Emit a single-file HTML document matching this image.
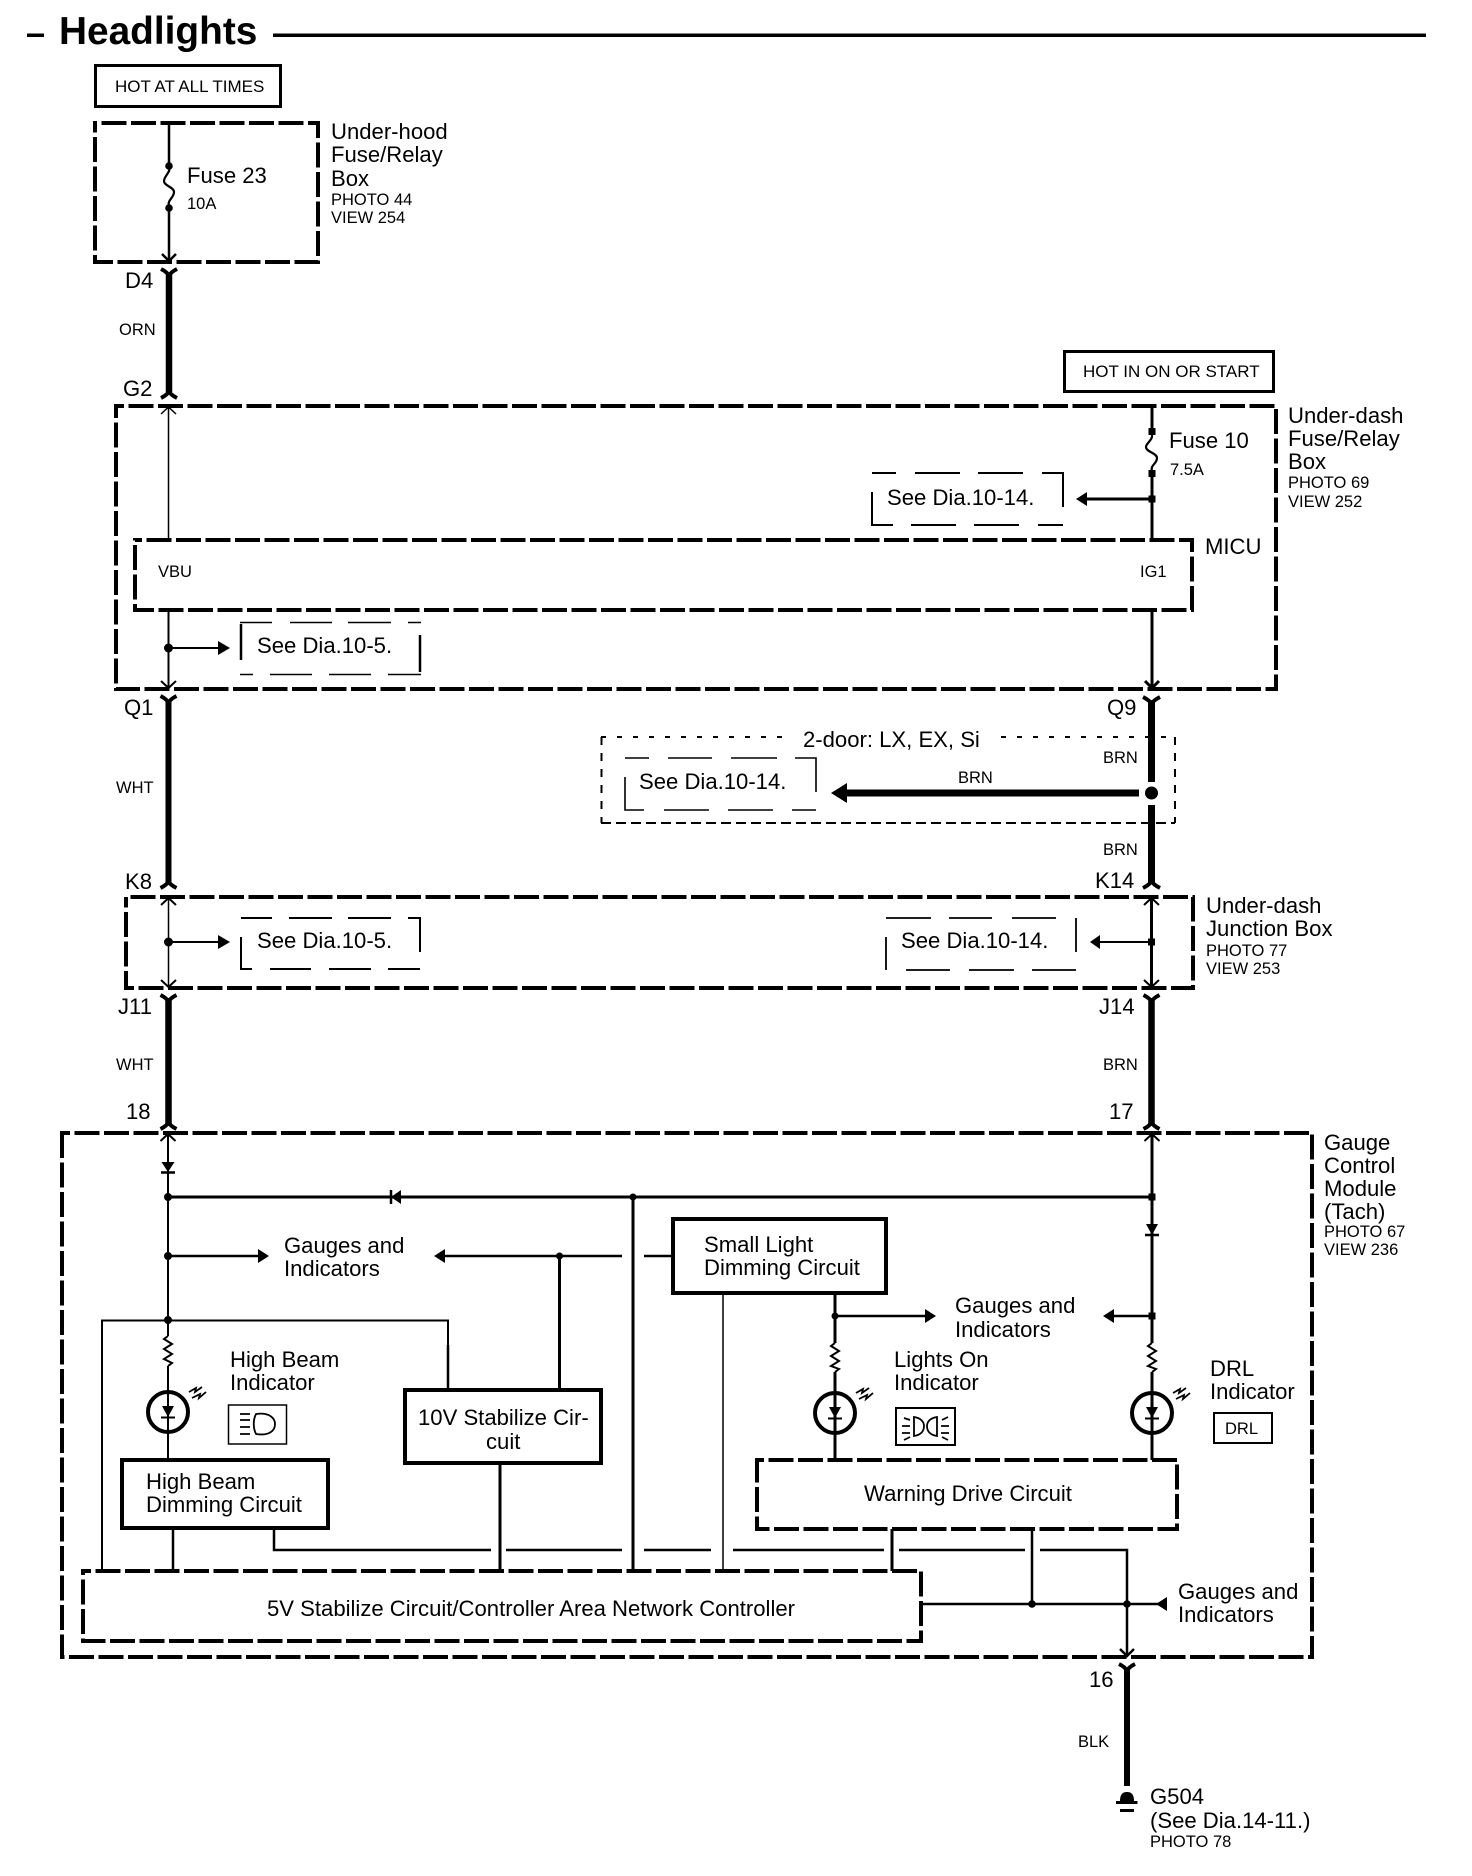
<!DOCTYPE html>
<html><head><meta charset="utf-8"><title>Headlights</title>
<style>
html,body{margin:0;padding:0;background:#fff}
svg{display:block}
text{font-family:"Liberation Sans",Arial,sans-serif;fill:#000}
.b{font-size:22.1px}
.s{font-size:16.5px}
.h{font-size:17px}
.w{fill:none;stroke:#000}
.f{fill:#000;stroke:none}
.box{fill:none;stroke:#000;stroke-width:4;stroke-dasharray:25 4.5;stroke-dashoffset:17}
</style></head><body>
<svg width="1472" height="1876" viewBox="0 0 1472 1876" xmlns="http://www.w3.org/2000/svg">
<rect width="1472" height="1876" fill="#fff"/>

<!-- title -->
<rect x="27" y="33.5" width="17" height="3.5" class="f"/>
<text x="59" y="44" font-size="38.8" font-weight="bold">Headlights</text>
<rect x="273" y="33.5" width="1153" height="3.5" class="f"/>

<!-- hot at all times -->
<rect x="95.5" y="65.5" width="185" height="41" class="w" stroke-width="3"/>
<text x="115" y="92" class="h">HOT AT ALL TIMES</text>

<!-- under-hood -->
<rect x="95" y="123" width="223" height="139" class="box" style="stroke-dashoffset:23"/>
<path class="w" stroke-width="2.5" d="M169 123V166M169 208V261M162 254L169 261L176 254"/>
<circle cx="169" cy="166" r="3.8" class="f"/><circle cx="169" cy="208" r="3.8" class="f"/>
<path class="w" stroke-width="2.2" d="M169 168C171 172 164 176 164 181C164 186 174 187 174 192C174 198 167 200 169 206"/>
<text x="187" y="183" class="b">Fuse 23</text>
<text x="187" y="209" class="s">10A</text>
<text x="331" y="139" class="b">Under-hood</text>
<text x="331" y="162" class="b">Fuse/Relay</text>
<text x="331" y="186" class="b">Box</text>
<text x="331" y="205" class="s">PHOTO 44</text>
<text x="331" y="223" class="s">VIEW 254</text>

<!-- D4 - G2 -->
<path class="w" stroke-width="6.5" d="M169 274V392"/>
<path class="w" stroke-width="4" d="M161 269C165 271 168 273 169 276C170 273 173 271 177 269"/>
<path class="w" stroke-width="4" d="M161 398C165 396 168 394 169 391C170 394 173 396 177 398"/>
<text x="125" y="288" class="b">D4</text>
<text x="119" y="335" class="s">ORN</text>
<text x="123" y="396" class="b">G2</text>

<!-- hot in on -->
<rect x="1064.5" y="351.5" width="209" height="40" class="w" stroke-width="3"/>
<text x="1083" y="377" class="h">HOT IN ON OR START</text>

<!-- under-dash fuse box -->
<rect x="116" y="406" width="1160" height="283" class="box"/>
<path class="w" stroke-width="1.5" d="M168.500 406V540M161 414L168.500 407L176 414"/>
<path class="w" stroke-width="3" d="M1152 406V432M1152 473V540"/>
<rect x="1148.500" y="428" width="7" height="7" class="f"/><rect x="1148.500" y="470" width="7" height="7" class="f"/>
<path class="w" stroke-width="2.2" d="M1152 435C1153 440 1146 443 1146 447C1146 452 1157 453 1157 458C1157 464 1150 465 1152 471"/>
<rect x="1148.500" y="495.500" width="7" height="7" class="f"/>
<path class="w" stroke-width="3" d="M1086 499H1152"/>
<path class="f" d="M1076 499L1087 492V506Z"/>
<path class="w" stroke-width="2" d="M872 473H896M915 473H960M978 473H1023M1042 473H1063V507M872 492V525H893M911 525H956M974 525H1019M1038 525H1063"/>
<text x="887" y="505" class="b">See Dia.10-14.</text>
<text x="1169" y="448" class="b">Fuse 10</text>
<text x="1170" y="475" class="s">7.5A</text>
<text x="1288" y="423" class="b">Under-dash</text>
<text x="1288" y="446" class="b">Fuse/Relay</text>
<text x="1288" y="469" class="b">Box</text>
<text x="1288" y="488" class="s">PHOTO 69</text>
<text x="1288" y="507" class="s">VIEW 252</text>

<!-- MICU -->
<rect x="135" y="540" width="1057" height="70" class="box" style="stroke-dashoffset:18"/>
<text x="1205" y="554" class="b">MICU</text>
<text x="158" y="577" class="s">VBU</text>
<text x="1140" y="577" class="s">IG1</text>
<path class="w" stroke-width="2" d="M168.500 610V688M161 681L168.500 688L176 681"/>
<circle cx="168.500" cy="648" r="4.500" class="f"/>
<path class="w" stroke-width="2" d="M168 648H220"/>
<path class="f" d="M230 648L218 641V655Z"/>
<path class="w" stroke-width="2.5" d="M241 624V660M420 635V672"/>
<path class="w" stroke-width="1.5" d="M240 622.500H272M290 622.500H332M348 622.500H391M408 622.500H421M240 674.500H253M270 674.500H312M329 674.500H371M388 674.500H421"/>
<text x="257" y="653" class="b">See Dia.10-5.</text>
<path class="w" stroke-width="3" d="M1152 610V688M1145 681L1152 688L1159 681"/>

<!-- Q1/K8 -->
<path class="w" stroke-width="6" d="M168.500 700V882"/>
<path class="w" stroke-width="4" d="M160.500 696C164.500 698 167.500 700 168.500 703C169.500 700 172.500 698 176.500 696"/>
<path class="w" stroke-width="4" d="M160.500 888C164.500 886 167.500 884 168.500 881C169.500 884 172.500 886 176.500 888"/>
<text x="124" y="715" class="b">Q1</text>
<text x="116" y="793" class="s">WHT</text>
<text x="125" y="889" class="b">K8</text>

<!-- 2-door -->
<path class="w" stroke-width="2" stroke-dasharray="5 11" d="M601 737H1175"/>
<path class="w" stroke-width="2" stroke-dasharray="10 5" d="M601 823H1175"/>
<path class="w" stroke-width="2" stroke-dasharray="8 8" d="M601.500 737V823M1175 737V823"/>
<rect x="788" y="730" width="213" height="20" fill="#fff"/>
<text x="803" y="747" class="b">2-door: LX, EX, Si</text>
<path class="w" stroke-width="1.600" d="M625 758H649M668 758H712M731 758H777M795 758H816V792M625 777V810H644M664 810H709M728 810H773M792 810H816"/>
<text x="639" y="789" class="b">See Dia.10-14.</text>
<path class="w" stroke-width="7" d="M845 793H1139"/>
<path class="f" d="M831 793L847 783V803Z"/>
<circle cx="1151.500" cy="793" r="6.500" class="f"/>

<!-- Q9/K14 -->
<path class="w" stroke-width="7" d="M1151.500 700V782M1151.500 805V882"/>
<path class="w" stroke-width="4" d="M1143 697C1147 699 1150 701 1151.500 704C1153 701 1156 699 1160 697"/>
<path class="w" stroke-width="4" d="M1143 888C1147 886 1150 884 1151.500 881C1153 884 1156 886 1160 888"/>
<text x="1107" y="715" class="b">Q9</text>
<text x="1095" y="888" class="b">K14</text>
<text x="1103" y="763" class="s">BRN</text>
<text x="958" y="783" class="s">BRN</text>
<text x="1103" y="855" class="s">BRN</text>

<!-- junction box -->
<rect x="126" y="897" width="1067" height="91" class="box" style="stroke-dashoffset:25"/>
<path class="w" stroke-width="1.500" d="M168.500 897V987"/>
<path class="w" stroke-width="2" d="M161 905L168.500 898L176 905M161 980L168.500 987L176 980"/>
<circle cx="168.500" cy="942" r="4.500" class="f"/>
<path class="w" stroke-width="2" d="M168 942H220"/>
<path class="f" d="M230 942L218 935V949Z"/>
<path class="w" stroke-width="2" d="M241 918H272M289 918H332M348 918H391M408 918H420V952M241 937V969H252M270 969H311M329 969H371M388 969H420"/>
<text x="257" y="948" class="b">See Dia.10-5.</text>
<path class="w" stroke-width="3" d="M1151.500 897V987"/>
<path class="w" stroke-width="2" d="M1144 905L1151.500 898L1159 905M1144 980L1151.500 987L1159 980"/>
<rect x="1148" y="938.500" width="7" height="7" class="f"/>
<path class="w" stroke-width="2" d="M1100 942H1151"/>
<path class="f" d="M1090 942L1100 935V949Z"/>
<path class="w" stroke-width="1.800" d="M886 918H931M949 918H992M1012 918H1056M1076 918V952M886 937V970M906 970H950M969 970H1014M1032 970H1076"/>
<text x="901" y="948" class="b">See Dia.10-14.</text>
<text x="1206" y="913" class="b">Under-dash</text>
<text x="1206" y="936" class="b">Junction Box</text>
<text x="1206" y="956" class="s">PHOTO 77</text>
<text x="1206" y="974" class="s">VIEW 253</text>

<!-- J11 / 18, J14 / 17 -->
<path class="w" stroke-width="6.500" d="M168.500 998V1125M1151.500 998V1125"/>
<path class="w" stroke-width="4" d="M160.500 995C164.500 997 167.500 999 168.500 1002C169.500 999 172.500 997 176.500 995M1143.500 995C1147.500 997 1150.500 999 1151.500 1002C1152.500 999 1155.500 997 1159.500 995"/>
<path class="w" stroke-width="4" d="M160.500 1129C164.500 1127 167.500 1125 168.500 1122C169.500 1125 172.500 1127 176.500 1129M1143.500 1129C1147.500 1127 1150.500 1125 1151.500 1122C1152.500 1125 1155.500 1127 1159.500 1129"/>
<text x="118" y="1014" class="b">J11</text>
<text x="1099" y="1014" class="b">J14</text>
<text x="116" y="1070" class="s">WHT</text>
<text x="1103" y="1070" class="s">BRN</text>
<text x="126" y="1119" class="b">18</text>
<text x="1109" y="1119" class="b">17</text>

<!-- gauge module -->
<rect x="62" y="1133" width="1250" height="524" class="box"/>
<text x="1324" y="1150" class="b">Gauge</text>
<text x="1324" y="1173" class="b">Control</text>
<text x="1324" y="1196" class="b">Module</text>
<text x="1324" y="1219" class="b">(Tach)</text>
<text x="1324" y="1237" class="s">PHOTO 67</text>
<text x="1324" y="1255" class="s">VIEW 236</text>

<!-- left rail -->
<path class="w" stroke-width="2" d="M168 1133V1336M168 1366V1459M160.500 1141L168 1134L175.500 1141"/>
<path class="f" d="M168 1172L161.500 1162H174.500Z"/>
<path class="w" stroke-width="2.500" d="M161 1172.500H175"/>
<circle cx="168" cy="1197" r="4" class="f"/>
<path class="w" stroke-width="3" d="M168 1197H1152"/>
<path class="f" d="M391 1197L401 1190V1204Z"/>
<path class="w" stroke-width="2.500" d="M391 1190V1204"/>
<circle cx="168" cy="1256" r="4" class="f"/>
<path class="w" stroke-width="2.500" d="M168 1256H260"/>
<path class="f" d="M269 1256L258 1249V1263Z"/>
<text x="284" y="1253" class="b">Gauges and</text>
<text x="284" y="1276" class="b">Indicators</text>
<path class="w" stroke-width="2.500" d="M444 1256H622"/>
<path class="f" d="M434 1256L445 1249V1263Z"/>
<circle cx="559.500" cy="1256" r="3.500" class="f"/>
<path class="w" stroke-width="3" d="M559.500 1256V1389"/>
<path class="w" stroke-width="3" d="M633 1197V1571"/>
<circle cx="633" cy="1197" r="3.500" class="f"/>
<circle cx="168" cy="1320" r="4" class="f"/>
<path class="w" stroke-width="2" d="M102 1571V1320.500H448V1389"/>
<path class="w" stroke-width="2.500" d="M448 1345V1389"/>

<!-- high beam LED -->
<path class="w" stroke-width="2" d="M168 1336L164 1339L172 1344L164 1349L172 1354L164 1359L172 1363L168 1366"/>
<circle cx="168" cy="1412" r="20" fill="none" stroke="#000" stroke-width="4"/>
<path class="f" d="M168 1417L162 1406H174Z"/>
<path class="w" stroke-width="2" d="M161 1417.500H175"/>
<path class="w" stroke-width="1.800" d="M189 1392L196 1388L195 1392L202 1387M192 1398L200 1394L199 1398L206 1392"/>
<text x="230" y="1367" class="b">High Beam</text>
<text x="230" y="1390" class="b">Indicator</text>
<rect x="228.500" y="1405" width="58" height="39" class="w" stroke-width="1.500"/>
<path class="w" stroke-width="1.800" d="M240 1414H250M240 1420H250M240 1427H250M240 1434H250M256 1414C269 1412 275 1418 275 1424C275 1431 269 1436 256 1434C253 1428 253 1420 256 1414Z"/>
<rect x="122" y="1460" width="206" height="68" class="w" stroke-width="4"/>
<text x="146" y="1489" class="b">High Beam</text>
<text x="146" y="1512" class="b">Dimming Circuit</text>
<path class="w" stroke-width="2.500" d="M173 1529V1571"/>
<path class="w" stroke-width="2.500" d="M274 1529V1550H491M506 1550H622M644 1550H711M733 1550H884M899 1550H1025M1040 1550H1127V1656M1120 1649L1127 1656L1134 1649"/>

<!-- 10V -->
<rect x="405" y="1390" width="196" height="73" class="w" stroke-width="4"/>
<text x="418" y="1425" class="b">10V Stabilize Cir-</text>
<text x="486" y="1449" class="b">cuit</text>
<path class="w" stroke-width="3" d="M500 1464V1571"/>

<!-- small light -->
<path class="w" stroke-width="2.500" d="M644 1256H671"/>
<rect x="673" y="1219" width="213" height="74" class="w" stroke-width="4"/>
<text x="704" y="1252" class="b">Small Light</text>
<text x="704" y="1275" class="b">Dimming Circuit</text>
<path class="w" stroke-width="1.500" d="M723 1293V1571"/>

<!-- lights on -->
<path class="w" stroke-width="3" d="M835 1293V1343M835 1372V1460"/>
<circle cx="835" cy="1316" r="3.500" class="f"/>
<path class="w" stroke-width="2.500" d="M835 1316H926"/>
<path class="f" d="M936 1316L925 1309V1323Z"/>
<text x="955" y="1313" class="b">Gauges and</text>
<text x="955" y="1337" class="b">Indicators</text>
<path class="w" stroke-width="2" d="M835 1343L831 1346L839 1351L831 1356L839 1361L831 1366L839 1369L835 1372"/>
<circle cx="835" cy="1413" r="20" fill="none" stroke="#000" stroke-width="4"/>
<path class="f" d="M835 1418L829 1407H841Z"/>
<path class="w" stroke-width="2" d="M828 1418.500H842"/>
<path class="w" stroke-width="1.800" d="M856 1393L863 1389L862 1393L869 1388M859 1399L867 1395L866 1399L873 1393"/>
<text x="894" y="1367" class="b">Lights On</text>
<text x="894" y="1390" class="b">Indicator</text>
<rect x="896" y="1408" width="59" height="37" class="w" stroke-width="2"/>
<path class="w" stroke-width="1.800" d="M904 1418L910 1420M902 1426H910M902 1433H910M904 1440L910 1437M914 1417C921 1418 924 1422 924 1426C924 1431 921 1435 914 1436ZM937 1417C930 1418 927 1422 927 1426C927 1431 930 1435 937 1436ZM942 1420L948 1417M941 1426H949M941 1433H949M942 1437L948 1440"/>

<!-- right rail -->
<path class="w" stroke-width="3" d="M1152 1133V1343M1152 1372V1460"/>
<path class="w" stroke-width="2" d="M1144.500 1141L1152 1134L1159.500 1141"/>
<rect x="1148.500" y="1193.500" width="7" height="7" class="f"/>
<path class="f" d="M1152 1235L1146 1224H1158Z"/>
<path class="w" stroke-width="2.500" d="M1145 1235H1159"/>
<rect x="1148.500" y="1312.500" width="7" height="7" class="f"/>
<path class="w" stroke-width="2.500" d="M1113 1316H1152"/>
<path class="f" d="M1103 1316L1114 1309V1323Z"/>
<path class="w" stroke-width="2" d="M1152 1343L1148 1346L1156 1351L1148 1356L1156 1361L1148 1366L1156 1369L1152 1372"/>
<circle cx="1152" cy="1413" r="20" fill="none" stroke="#000" stroke-width="4"/>
<path class="f" d="M1152 1418L1146 1407H1158Z"/>
<path class="w" stroke-width="2" d="M1145 1418.500H1159"/>
<path class="w" stroke-width="1.800" d="M1173 1393L1180 1389L1179 1393L1186 1388M1176 1399L1184 1395L1183 1399L1190 1393"/>
<text x="1210" y="1376" class="b">DRL</text>
<text x="1210" y="1399" class="b">Indicator</text>
<rect x="1214" y="1413" width="58" height="30" class="w" stroke-width="2"/>
<text x="1225" y="1434" class="s">DRL</text>

<!-- warning -->
<rect x="757" y="1460" width="420" height="69" class="box" style="stroke-dashoffset:18"/>
<text x="968" y="1501" class="b" text-anchor="middle">Warning Drive Circuit</text>
<path class="w" stroke-width="3" d="M892 1529V1571"/>
<path class="w" stroke-width="2.500" d="M1032 1529V1604"/>

<!-- 5V -->
<rect x="83" y="1571" width="838" height="70" class="box"/>
<text x="267" y="1616" class="b">5V Stabilize Circuit/Controller Area Network Controller</text>
<path class="w" stroke-width="2.500" d="M921 1604H1158"/>
<circle cx="1032" cy="1604" r="3.800" class="f"/>
<circle cx="1127" cy="1604" r="3.800" class="f"/>
<path class="f" d="M1156 1604L1167 1597V1611Z"/>
<text x="1178" y="1599" class="b">Gauges and</text>
<text x="1178" y="1622" class="b">Indicators</text>

<!-- ground -->
<path class="w" stroke-width="6" d="M1127 1668V1786"/>
<path class="w" stroke-width="4" d="M1119 1664C1123 1666 1126 1668 1127 1671C1128 1668 1131 1666 1135 1664"/>
<text x="1089" y="1687" class="b">16</text>
<text x="1078" y="1747" class="s">BLK</text>
<path class="f" d="M1120 1801C1120 1794 1123 1792 1127 1792C1131 1792 1134 1794 1134 1801Z"/>
<rect x="1116" y="1801" width="21.500" height="3" class="f"/>
<rect x="1120" y="1809" width="14" height="3" class="f"/>
<text x="1150" y="1804" class="b">G504</text>
<text x="1150" y="1828" class="b">(See Dia.14-11.)</text>
<text x="1150" y="1847" class="s">PHOTO 78</text>
</svg>
</body></html>
